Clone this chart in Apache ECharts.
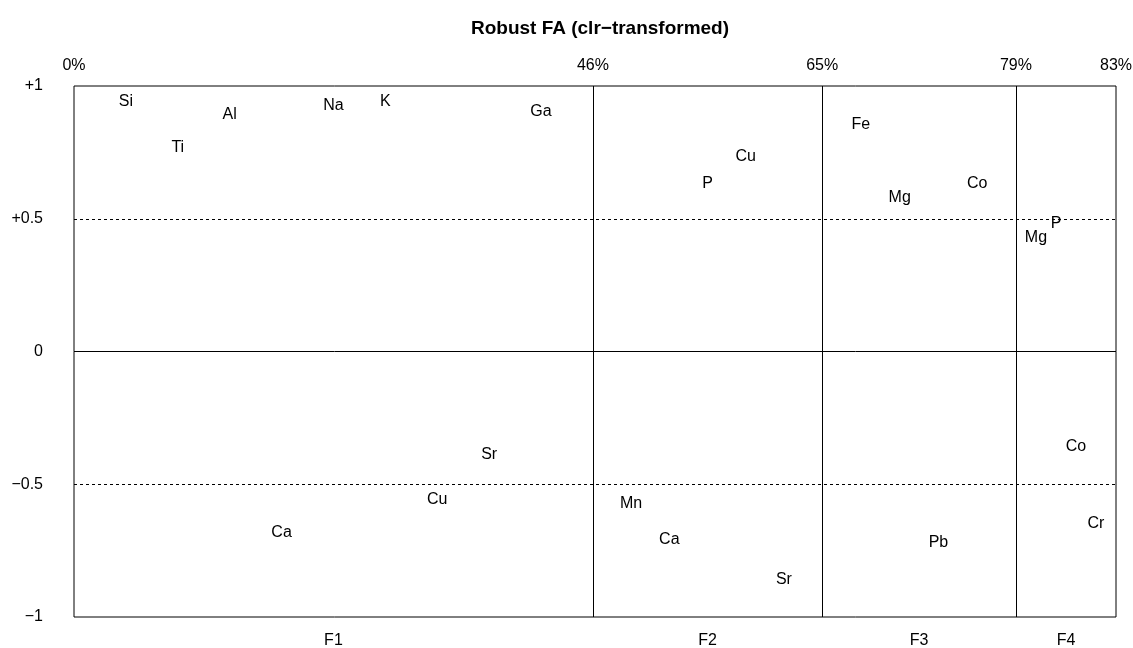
<!DOCTYPE html>
<html>
<head>
<meta charset="utf-8">
<title>Robust FA (clr-transformed)</title>
<script src="https://cdn.jsdelivr.net/npm/echarts@6/dist/echarts.min.js"></script>
<style>
  html, body { margin: 0; padding: 0; background: #fff; }
  #chart { width: 1133px; height: 648px; }
</style>
</head>
<body>
<div id="chart"></div>
<script>
// factor panels: breaks on the x scale (share of width) and cumulative variance labels
const factorNames = ["F1", "F2", "F3", "F4"];
const panelBreaks = [0, 49.8, 71.8, 90.4, 100];
const cumVarLabels = ["0%", "46%", "65%", "79%", "83%"];

// variables shown in each factor panel, left to right, with their loadings
const f1Vars = ["Si", "Ti", "Al", "Ca", "Na", "K", "Cu", "Sr", "Ga"];
const f1Load = [0.945, 0.772, 0.896, -0.678, 0.93, 0.945, -0.554, -0.384, 0.908];
const f2Vars = ["Mn", "Ca", "P", "Cu", "Sr"];
const f2Load = [-0.569, -0.704, 0.637, 0.738, -0.855];
const f3Vars = ["Fe", "Mg", "Pb", "Co"];
const f3Load = [0.859, 0.584, -0.716, 0.637];
const f4Vars = ["Mg", "P", "Co", "Cr"];
const f4Load = [0.433, 0.486, -0.353, -0.644];

// y axis tick labels
const yTicks = [-1, -0.5, 0, 0.5, 1];
const yTickLabels = ["\u22121", "\u22120.5", "0", "+0.5", "+1"];

const panels = [
  [f1Vars, f1Load],
  [f2Vars, f2Load],
  [f3Vars, f3Load],
  [f4Vars, f4Load]
];

// spread the variables evenly inside their panel
let points = [];
panels.forEach(function (p, k) {
  let a = panelBreaks[k];
  let b = panelBreaks[k + 1];
  let n = p[0].length;
  p[0].forEach(function (name, i) {
    points.push({ name: name, value: [a + (i + 1) * (b - a) / (n + 1), p[1][i]] });
  });
});

const centers = factorNames.map(function (f, k) {
  return (panelBreaks[k] + panelBreaks[k + 1]) / 2;
});

function nearestIndex(arr, v) {
  let best = 0;
  for (let i = 1; i < arr.length; i++) {
    if (Math.abs(arr[i] - v) < Math.abs(arr[best] - v)) best = i;
  }
  return best;
}

const font = "Liberation Sans, Arial, sans-serif";
let myChart = echarts.init(document.getElementById("chart"), null, { renderer: "canvas" });

let option = {
  animation: false,
  backgroundColor: "#fff",
  title: {
    text: "Robust FA (clr\u2212transformed)",
    left: 595,
    textAlign: "center",
    top: 14,
    textStyle: { fontFamily: font, fontSize: 19, fontWeight: "bold", color: "#000" }
  },
  grid: {
    left: 74,
    right: 17,
    top: 86,
    bottom: 31,
    outerBoundsMode: "none",
    containLabel: false,
    show: true,
    borderColor: "#000",
    borderWidth: 1,
    backgroundColor: "transparent"
  },
  xAxis: [
    {
      type: "value",
      position: "top",
      min: 0,
      max: 100,
      axisLine: { show: false },
      axisTick: { show: false },
      splitLine: { show: false },
      axisLabel: {
        customValues: panelBreaks,
        margin: 12,
        fontFamily: font,
        fontSize: 16,
        color: "#000",
        formatter: function (v) {
          return cumVarLabels[nearestIndex(panelBreaks, v)];
        }
      }
    },
    {
      type: "value",
      position: "bottom",
      min: 0,
      max: 100,
      axisLine: { show: false },
      axisTick: { show: false },
      splitLine: { show: false },
      axisLabel: {
        customValues: centers,
        margin: 16,
        fontFamily: font,
        fontSize: 16,
        color: "#000",
        formatter: function (v) {
          return factorNames[nearestIndex(centers, v)];
        }
      }
    }
  ],
  yAxis: {
    type: "value",
    min: -1,
    max: 1,
    interval: 0.5,
    axisLine: { show: false },
    axisTick: { show: false },
    splitLine: { show: false },
    axisLabel: {
      margin: 31,
      fontFamily: font,
      fontSize: 16,
      color: "#000",
      formatter: function (v) {
        return yTickLabels[nearestIndex(yTicks, v)];
      }
    }
  },
  series: [
    {
      type: "scatter",
      xAxisIndex: 0,
      symbolSize: 0,
      itemStyle: { color: "#000", opacity: 1 },
      data: points,
      label: {
        show: true,
        position: "inside",
        offset: [0, 1],
        formatter: "{b}",
        fontFamily: font,
        fontSize: 16,
        color: "#000",
        opacity: 1,
        textBorderWidth: 0,
        textBorderColor: "transparent"
      },
      markLine: {
        silent: true,
        symbol: ["none", "none"],
        label: { show: false },
        data: [
          { xAxis: panelBreaks[1], lineStyle: { type: "solid", color: "#000", width: 1 } },
          { xAxis: panelBreaks[2], lineStyle: { type: "solid", color: "#000", width: 1 } },
          { xAxis: panelBreaks[3], lineStyle: { type: "solid", color: "#000", width: 1 } },
          { yAxis: 0, lineStyle: { type: "solid", color: "#000", width: 1 } },
          { yAxis: 0.5, lineStyle: { type: [3, 3], color: "#000", width: 1 } },
          { yAxis: -0.5, lineStyle: { type: [3, 3], color: "#000", width: 1 } }
        ]
      }
    }
  ]
};

myChart.setOption(option);
window.addEventListener("resize", () => {
  myChart.resize();
});
</script>
</body>
</html>
